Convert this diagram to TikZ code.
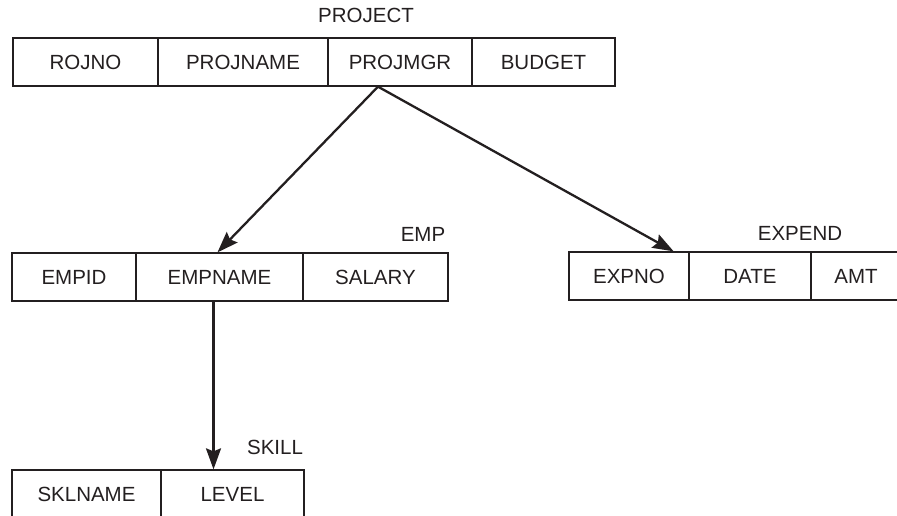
\documentclass[tikz,border=0pt]{standalone}
\usepackage{fontspec}
\setmainfont{Liberation Sans}
\definecolor{InkGray}{RGB}{35,31,32}
\usetikzlibrary{positioning, arrows.meta}

\begin{document}
\begin{tikzpicture}[x=1pt, y=-1pt,
  cell/.style={rectangle, draw=InkGray, line width=1.3pt, minimum height=48pt, inner sep=0pt, font=\fontsize{20.5}{24}\selectfont, text=InkGray},
  tblname/.style={font=\fontsize{20.5}{24}\selectfont, text=InkGray, inner sep=0pt},
  arrow/.style={-{Stealth[length=21pt, width=15pt, inset=3pt]}, line width=2.3pt, InkGray}
]
\useasboundingbox (0,0) rectangle (897,515);

% PROJECT
\node[cell, minimum width=145pt] (rojno) at (85.5,62) {ROJNO};
\node[cell, minimum width=170pt] (projname) at (243,62) {PROJNAME};
\node[cell, minimum width=144pt] (projmgr) at (400,62) {PROJMGR};
\node[cell, minimum width=143pt] (budget) at (543.5,62) {BUDGET};
\node[tblname] (project) at (366,15) {PROJECT};

% EMP
\node[cell, minimum width=124pt] (empid) at (74,277) {EMPID};
\node[cell, minimum width=167pt] (empname) at (219.5,277) {EMPNAME};
\node[cell, minimum width=145pt] (salary) at (375.5,277) {SALARY};
\node[tblname] (emp) at (423,234) {EMP};

% EXPEND
\node[cell, minimum width=120pt] (expno) at (629,276) {EXPNO};
\node[cell, minimum width=122pt] (date) at (750,276) {DATE};
\node[cell, minimum width=90pt] (amt) at (856,276) {AMT};
\node[tblname] (expend) at (800,233) {EXPEND};

% SKILL
\node[cell, minimum width=149pt] (sklname) at (86.5,494) {SKLNAME};
\node[cell, minimum width=143pt] (level) at (232.5,494) {LEVEL};
\node[tblname] (skill) at (275,447) {SKILL};

\coordinate (fork) at ([xshift=-22pt]projmgr.south);
\draw[arrow] (fork) -- ([xshift=-2pt]empname.north);
\draw[arrow] (fork) -- ([xshift=-16pt]expno.north east);
\draw[arrow] ([xshift=-6pt]empname.south) -- ([xshift=-6pt]empname.south |- level.north);
\end{tikzpicture}
\end{document}
